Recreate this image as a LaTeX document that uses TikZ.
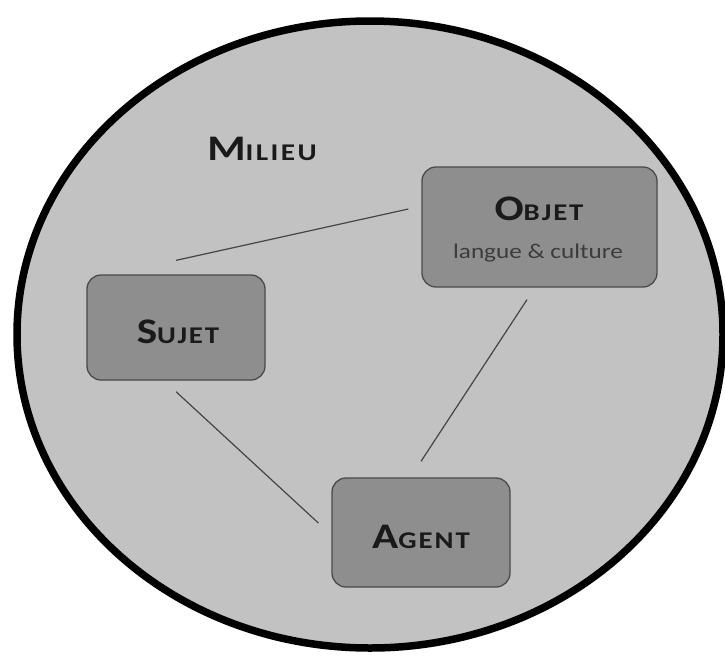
\documentclass[tikz,border=0pt]{standalone}
\usepackage{fontspec}
\setmainfont[FakeStretch=1.2]{Carlito}
\newfontfamily\labfont[LetterSpace=8,FakeStretch=1.2]{Carlito}
\newfontfamily\milfont[LetterSpace=10,FakeStretch=1.22]{Carlito}
\definecolor{milieufill}{HTML}{C2C2C2}
\definecolor{boxfill}{HTML}{8E8E8E}
\definecolor{boxdraw}{HTML}{4A4A4A}
\definecolor{linecol}{HTML}{454545}
\definecolor{textcol}{HTML}{1A1A1A}
\newcommand{\fsc}[2]{{\fontsize{36}{40}\selectfont #1}{\fontsize{24}{28}\selectfont #2}}
\tikzset{
  boxnode/.style={draw=boxdraw, line width=1.3pt, fill=boxfill, rounded corners=14pt, inner sep=0pt},
  lab/.style={anchor=base, inner sep=0pt, text=textcol, font=\labfont\bfseries},
  sublab/.style={anchor=base, inner sep=0pt, text=textcol!85!white, font=\fontsize{21}{24}\selectfont},
  link/.style={draw=linecol, line width=1.2pt}
}
\begin{document}
\begin{tikzpicture}[x=1pt,y=-1pt]
\useasboundingbox (0,0) rectangle (725,656);
\fill[white] (0,0) rectangle (725,656);
\draw[line width=7.5pt, fill=milieufill] (370,334.5) ellipse[x radius=353, y radius=313.5];
\node[lab, font=\milfont\bfseries] (milieu) at (262,160) {\fsc{M}{ILIEU}};
\node[boxnode, minimum width=235pt, minimum height=120pt] (objet) at (539.5,227) {};
\node[boxnode, minimum width=178pt, minimum height=105pt] (sujet) at (176,327.5) {};
\node[boxnode, minimum width=178pt, minimum height=109pt] (agent) at (421,532.5) {};
\node[lab] (objetlab) at (539,220) {\fsc{O}{BJET}};
\node[sublab] (objetsub) at (538,258) {langue \& culture};
\node[lab] (sujetlab) at (178,343) {\fsc{S}{UJET}};
\node[lab] (agentlab) at (421,548) {\fsc{A}{GENT}};
\draw[link] ([yshift=14pt]sujet.north) -- ([xshift=-13pt,yshift=18pt]objet.west);
\draw[link] ([xshift=-12.5pt,yshift=-12pt]objet.south) -- ([yshift=16pt]agent.north);
\draw[link] ([yshift=-11pt]sujet.south) -- ([xshift=-13pt,yshift=9.5pt]agent.west);
\end{tikzpicture}
\end{document}
